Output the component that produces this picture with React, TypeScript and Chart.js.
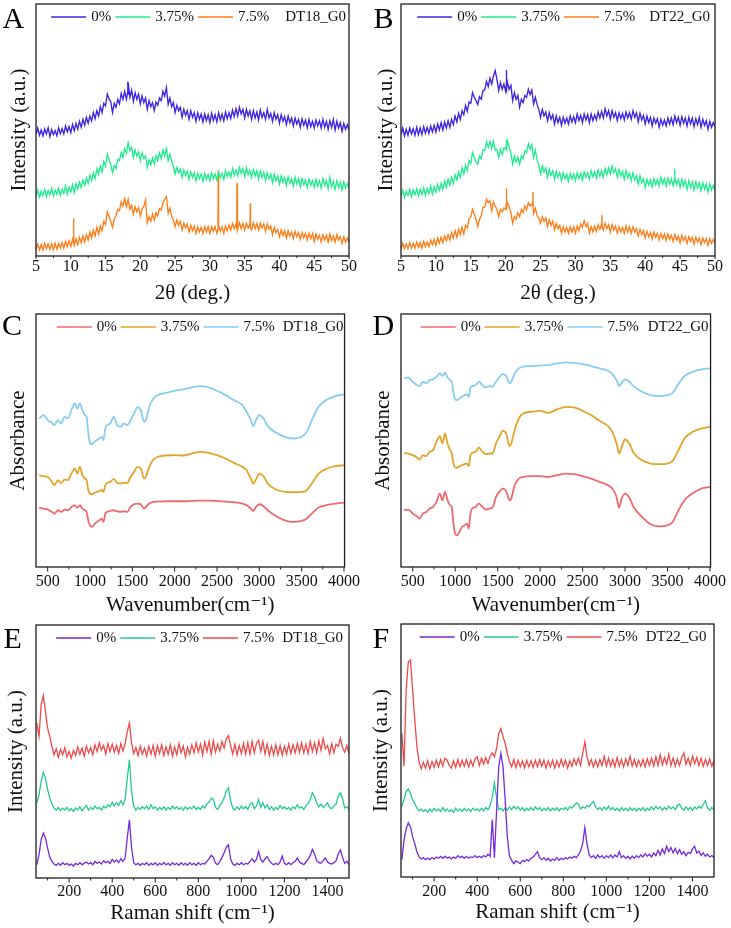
import React, { useEffect, useRef } from "react";
import { Chart, registerables } from "chart.js";
Chart.register(...registerables);

const FONT = "'Liberation Serif', 'Times New Roman', 'DejaVu Serif', serif";

// ---------- XRD (2θ, deg.) ----------
const XRD_X = [5,5.25,5.5,5.75,6,6.25,6.5,6.75,7,7.25,7.5,7.75,8,8.25,8.5,8.75,9,9.25,9.5,9.75,10,10.25,10.5,10.75,11,11.25,11.5,11.75,12,12.25,12.5,12.75,13,13.25,13.5,13.75,14,14.25,14.5,14.75,15,15.25,15.5,15.75,16,16.25,16.5,16.75,17,17.25,17.5,17.75,18,18.25,18.5,18.75,19,19.25,19.5,19.75,20,20.25,20.5,20.75,21,21.25,21.5,21.75,22,22.25,22.5,22.75,23,23.25,23.5,23.75,24,24.25,24.5,24.75,25,25.25,25.5,25.75,26,26.25,26.5,26.75,27,27.25,27.5,27.75,28,28.25,28.5,28.75,29,29.25,29.5,29.75,30,30.25,30.5,30.75,31,31.25,31.5,31.75,32,32.25,32.5,32.75,33,33.25,33.5,33.75,34,34.25,34.5,34.75,35,35.25,35.5,35.75,36,36.25,36.5,36.75,37,37.25,37.5,37.75,38,38.25,38.5,38.75,39,39.25,39.5,39.75,40,40.25,40.5,40.75,41,41.25,41.5,41.75,42,42.25,42.5,42.75,43,43.25,43.5,43.75,44,44.25,44.5,44.75,45,45.25,45.5,45.75,46,46.25,46.5,46.75,47,47.25,47.5,47.75,48,48.25,48.5,48.75,49,49.25,49.5,49.75,50];
const XRD_TICKS = [5,10,15,20,25,30,35,40,45,50];

const A_0 = [365,384,362,378,360,381,366,385,358,379,364,376,361,385,367,382,366,390,372,388,370,395,376,398,380,404,386,410,392,416,398,420,405,430,412,436,420,448,430,458,450,486,472,462,430,458,446,470,456,488,470,494,470,520,476,498,464,490,470,486,456,480,460,474,440,466,448,460,436,462,452,474,466,494,480,505,455,474,448,460,430,452,436,446,416,440,422,436,410,436,416,430,404,430,410,426,402,426,406,424,400,428,406,424,402,430,408,426,406,432,412,430,412,438,418,442,420,446,426,440,414,440,420,436,410,436,414,432,408,438,416,430,410,440,414,428,404,430,410,424,398,424,404,418,394,420,400,414,390,414,396,410,386,412,392,408,384,410,388,404,384,408,390,406,384,410,386,404,380,406,386,410,378,404,384,400,374,398,380,394,378];
const A_375 = [180,198,176,194,182,200,178,196,184,203,180,198,185,204,182,200,188,210,186,206,192,214,190,216,200,222,206,228,212,234,218,242,226,250,232,262,246,270,252,284,270,304,290,274,250,272,262,290,286,310,296,322,308,340,316,326,296,318,300,312,286,310,292,300,266,288,274,294,276,300,286,310,292,318,300,322,286,306,284,270,246,266,250,260,236,258,242,254,230,252,236,250,226,248,232,246,224,248,230,244,226,250,232,246,228,252,234,248,230,256,238,252,236,262,242,258,240,266,248,262,238,264,244,258,236,260,240,256,230,256,236,250,226,250,232,246,220,246,226,240,216,240,222,236,212,238,218,232,210,236,216,232,208,232,214,228,206,230,212,226,206,230,210,226,204,232,212,226,202,236,208,224,200,226,206,222,198,222,204,218,204];
const A_75 = [20,36,18,34,18,38,22,36,20,37,18,38,20,38,24,40,24,44,28,46,28,50,32,52,34,56,40,60,42,64,48,72,54,78,60,86,66,90,76,104,94,132,120,104,86,110,120,140,136,162,150,172,148,170,140,152,126,148,132,146,120,140,150,168,100,118,104,126,108,130,120,142,138,160,170,178,128,144,120,108,88,108,92,104,78,98,84,96,72,92,76,90,68,88,72,86,68,88,72,88,68,88,74,88,68,90,74,88,68,90,76,92,78,98,82,96,78,100,82,98,78,98,84,96,78,100,82,98,78,98,84,96,74,96,80,90,64,86,70,80,58,78,62,76,54,76,60,72,52,74,58,70,50,70,54,68,48,68,52,68,44,66,50,62,42,64,48,62,42,66,46,60,42,64,48,58,38,58,42,54,40];
const A_0_PEAKS = [[18.16,490],[18.2,523],[18.24,486]];
const A_375_PEAKS: number[][] = [];
const A_75_PEAKS = [[10.36,40],[10.4,113],[10.44,44],[31.16,80],[31.2,256],[31.24,82],[33.86,86],[33.9,218],[33.94,84],[35.76,86],[35.8,158],[35.84,84]];

const B_0 = [364,384,360,380,362,384,366,382,362,386,364,384,364,388,368,386,368,390,372,392,372,396,378,400,378,402,384,406,386,410,394,420,402,428,410,436,424,452,434,462,458,490,476,466,454,478,470,496,498,524,508,534,516,540,556,530,496,520,500,516,494,522,500,512,466,490,470,482,446,470,460,482,476,500,484,498,456,476,454,440,416,440,420,432,406,430,410,424,396,420,400,416,392,416,398,414,396,420,402,418,400,426,406,422,400,426,408,424,400,426,406,424,408,432,414,434,414,442,420,436,410,436,416,430,406,430,412,428,408,432,414,430,410,436,416,430,402,428,408,422,396,420,400,416,390,414,398,412,386,410,392,408,390,414,396,414,394,420,400,416,392,418,398,414,390,416,396,414,388,412,394,416,386,410,392,406,380,404,386,400,388];
const B_375 = [180,198,176,194,182,200,178,198,184,202,180,200,184,204,182,202,188,210,186,208,192,214,196,218,200,224,206,230,212,236,218,244,228,252,236,264,246,272,256,286,278,310,296,282,276,300,292,318,316,342,326,344,322,344,318,320,296,320,304,324,320,346,326,310,276,300,282,296,276,300,292,316,310,336,320,334,296,318,290,272,246,270,252,264,236,260,242,256,230,254,236,250,226,250,232,246,224,248,230,246,226,250,232,248,228,252,236,250,230,256,238,252,234,258,240,256,236,262,244,264,246,270,250,262,236,260,240,254,230,256,234,248,226,250,228,240,216,240,220,232,206,230,212,228,208,232,214,230,210,236,216,232,210,234,216,232,210,236,214,230,206,230,210,226,200,226,206,222,198,222,204,220,196,220,200,216,192,216,198,212,198];
const B_75 = [20,38,22,36,22,40,24,38,24,42,26,40,24,44,28,42,28,48,34,50,32,54,38,56,40,60,46,64,48,70,54,76,56,80,64,86,66,92,84,112,118,140,126,110,88,110,120,146,146,170,160,166,136,162,150,140,118,140,132,144,140,160,150,130,98,118,110,130,118,140,130,150,138,160,150,156,128,144,120,114,98,118,104,114,88,108,92,104,78,98,82,92,68,88,72,86,68,88,72,88,68,90,76,96,86,106,88,98,68,88,72,90,74,94,80,96,78,98,82,94,72,94,78,90,68,88,72,86,68,90,72,88,68,88,72,82,60,80,64,76,54,74,58,70,50,72,56,68,48,68,52,66,46,66,50,62,44,64,48,60,40,62,46,58,38,58,44,56,36,56,42,54,34,54,40,52,32,52,38,50,38];
const B_0_PEAKS = [[20.06,505],[20.1,558],[20.14,500]];
const B_375_PEAKS = [[20.06,330],[20.1,348],[20.14,325],[44.16,226],[44.2,262],[44.24,224]];
const B_75_PEAKS = [[20.06,150],[20.1,203],[20.14,146],[23.86,150],[23.9,193],[23.94,140],[33.76,86],[33.8,123],[33.84,86]];

// ---------- FTIR (wavenumber, cm-1) ----------
const FT_X = [400,450,500,550,580,620,660,700,740,780,820,850,880,910,940,960,980,1000,1020,1050,1080,1110,1140,1160,1180,1200,1240,1280,1320,1360,1400,1440,1480,1520,1560,1600,1640,1660,1700,1750,1800,1900,2000,2100,2200,2300,2400,2500,2600,2700,2800,2850,2900,2930,2960,3000,3050,3100,3200,3300,3400,3500,3560,3620,3700,3800,3900,4000];
const FT_TICKS = [500,1000,1500,2000,2500,3000,3500,4000];

const C_0 = [178,175,172,165,160,170,165,172,170,180,185,178,185,175,170,165,138,125,120,128,135,140,145,135,160,165,168,170,167,165,167,165,180,188,190,188,175,180,190,195,196,197,197,197,198,199,199,198,196,194,190,185,175,168,180,188,182,170,152,140,135,138,145,160,178,186,190,193];
const C_375 = [275,272,270,255,245,260,252,262,260,280,295,280,300,275,265,260,230,220,218,222,225,228,230,225,245,252,255,264,252,250,252,252,270,285,300,295,265,270,300,322,330,334,335,334,340,345,342,335,325,312,300,290,265,250,262,280,272,250,232,225,224,225,230,250,280,295,302,305];
const C_75 = [445,455,440,432,425,440,430,450,445,470,490,475,490,470,455,450,400,372,368,375,380,385,390,380,415,425,430,450,425,420,430,425,440,460,478,470,435,440,480,505,515,522,528,532,538,542,538,528,515,500,485,465,440,422,440,455,445,422,402,390,385,390,405,440,480,502,512,517];

const D_0 = [170,172,160,152,145,160,165,175,180,195,220,200,225,200,185,180,130,100,95,105,120,125,130,115,160,175,180,190,180,172,175,178,210,225,235,228,200,205,245,265,270,272,272,270,275,280,278,272,265,255,245,235,210,178,205,220,208,180,150,128,122,125,135,165,200,222,235,240];
const D_375 = [342,340,335,328,322,335,332,345,350,375,392,370,400,370,350,340,310,298,297,302,305,308,310,302,335,342,345,358,345,338,340,340,370,390,408,400,362,370,410,445,460,465,468,462,472,480,478,468,455,438,422,405,370,340,360,382,370,342,320,310,308,310,318,345,385,405,415,420];
const D_75 = [565,568,555,545,542,555,550,560,562,570,580,572,582,568,560,555,520,502,500,505,510,515,517,510,538,542,545,555,545,538,542,540,555,568,578,572,550,555,580,595,600,602,604,605,610,613,611,608,602,595,588,578,560,542,552,562,555,542,525,515,512,515,522,545,572,585,592,595];

// ---------- Raman (Raman shift, cm-1) ----------
const RAMAN_X = [50,60,70,80,90,100,110,120,130,140,150,160,170,180,190,200,210,220,230,240,250,260,270,280,290,300,310,320,330,340,350,360,370,380,390,400,410,420,430,440,450,460,470,480,490,500,510,520,530,540,550,560,570,580,590,600,610,620,630,640,650,660,670,680,690,700,710,720,730,740,750,760,770,780,790,800,810,820,830,840,850,860,870,880,890,900,910,920,930,940,950,960,970,980,990,1000,1010,1020,1030,1040,1050,1060,1070,1080,1090,1100,1110,1120,1130,1140,1150,1160,1170,1180,1190,1200,1210,1220,1230,1240,1250,1260,1270,1280,1290,1300,1310,1320,1330,1340,1350,1360,1370,1380,1390,1400,1410,1420,1430,1440,1450,1460,1470,1480,1490,1500];
const RAMAN_TICKS = [200,400,600,800,1000,1200,1400];

const E_0 = [40,70,115,135,120,90,62,50,42,38,44,38,46,40,44,38,42,36,44,40,46,40,44,48,42,46,40,50,44,48,42,52,46,50,44,56,48,54,46,58,50,60,120,175,90,45,40,44,38,44,40,46,38,44,40,46,38,44,40,46,40,44,38,46,40,44,38,46,40,44,38,46,40,44,38,46,40,44,42,50,58,68,62,44,40,50,62,76,92,100,58,42,38,44,40,46,40,44,42,50,58,48,56,80,56,48,58,64,52,44,40,44,40,48,66,44,40,46,40,46,50,60,48,44,40,48,56,68,86,72,52,46,44,52,60,48,44,42,46,52,72,84,62,44,50,40];
const E_375 = [225,250,290,317,300,265,240,222,210,204,212,202,210,204,212,202,208,200,210,204,214,202,210,218,204,212,206,216,208,212,204,216,210,220,214,228,216,226,218,232,220,236,300,355,260,215,204,212,206,214,208,216,206,220,208,214,204,212,206,214,204,212,206,216,208,214,206,212,204,214,206,212,208,216,206,212,206,216,210,222,228,240,236,212,206,218,226,240,262,270,232,210,204,214,206,216,208,214,206,222,226,208,216,236,212,226,210,220,206,214,204,212,206,218,208,214,206,212,204,214,208,220,210,214,206,216,224,236,256,244,226,214,222,212,218,226,212,208,216,222,246,256,238,210,214,206];
const E_75 = [465,425,520,548,500,450,425,395,370,388,362,386,370,392,364,380,360,384,368,394,372,390,366,396,376,392,370,400,380,406,384,398,372,404,380,402,378,398,374,404,382,404,440,465,405,374,392,368,396,372,390,366,396,372,398,366,398,374,400,368,394,372,400,366,394,370,404,376,396,364,392,372,400,376,406,378,402,370,408,380,410,372,412,378,402,382,410,390,418,428,398,372,402,370,398,374,404,372,406,372,410,376,404,414,380,410,372,402,368,396,370,400,370,398,368,396,372,402,374,400,376,404,378,406,376,402,374,410,380,406,376,412,384,420,388,398,372,404,376,402,396,420,392,378,398,374];

const F_0 = [52,110,145,162,150,120,100,75,60,54,58,52,56,52,58,54,60,56,62,56,62,56,60,54,60,56,64,58,62,56,62,56,60,58,64,58,62,58,64,60,68,62,172,58,200,330,370,330,230,120,62,50,40,48,44,40,50,46,52,48,56,60,68,76,58,52,58,50,56,48,54,50,58,50,56,52,58,54,60,56,62,58,66,78,100,148,100,66,58,64,56,66,58,64,56,64,58,66,58,66,60,76,58,64,56,62,54,62,56,64,58,66,60,70,62,68,60,72,64,80,66,84,70,92,76,88,72,86,70,82,68,76,64,74,70,84,92,72,78,64,72,62,68,60,64,58];
const F_375 = [212,232,256,264,250,232,220,206,198,204,196,202,194,204,196,206,198,204,196,208,198,204,196,202,194,206,198,204,196,206,198,204,196,206,200,204,198,206,198,208,202,214,240,282,236,202,206,198,208,200,210,202,212,204,210,200,208,198,206,200,208,200,210,202,208,198,206,200,208,198,206,200,208,198,206,202,208,200,210,206,214,222,218,204,210,206,214,210,220,226,210,202,208,200,210,202,212,202,208,200,206,198,208,200,206,198,208,200,206,198,206,200,208,198,206,200,210,202,212,204,210,200,208,202,212,204,210,202,214,218,206,200,210,202,208,200,210,204,212,206,218,228,206,200,208,202];
const F_75 = [430,332,560,645,650,560,470,390,345,324,344,326,348,324,346,328,350,330,352,332,356,350,334,326,348,328,352,330,350,332,352,330,350,332,354,360,334,356,338,358,340,362,372,360,385,430,445,420,400,370,345,330,352,328,350,330,348,326,350,330,348,328,350,330,352,332,350,326,348,330,350,326,348,330,352,332,350,326,348,332,354,336,356,334,370,405,360,334,352,330,350,330,352,334,362,332,356,332,352,330,358,332,352,330,354,334,362,332,352,330,350,332,352,330,354,334,356,332,360,334,366,336,358,338,368,334,356,332,354,334,358,372,338,356,334,362,340,358,334,356,332,352,334,354,332,348];

const LABELS = ["0%", "3.75%", "7.5%"];
const XRD_COLORS = ["#3D24E4", "#22EC8E", "#FF7E1A"];
const FT_COLORS = ["#EE6A6D", "#E2A42A", "#86CDF1"];
const RAMAN_COLORS = ["#7529DA", "#24C996", "#EF4A4A"];

function pts(xs: number[], ys: number[], extra: number[][] = []) {
  const p = xs.map((x, i) => ({ x, y: ys[i] }));
  extra.forEach(([x, y]) => p.push({ x, y }));
  p.sort((a, b) => a.x - b.x);
  return p;
}

type Series = { label: string; color: string; data: { x: number; y: number }[] };
type Cfg = {
  letter: string; lx: number; ly: number;
  x: number; y: number; w: number; h: number;
  area: { left: number; right: number; top: number; bottom: number };
  xMin: number; xMax: number; yMax: number; ticks: number[];
  xTitle: string; yTitle: string; yTitlePad: number; tickPad: number;
  major: number; minor: number; lw: number; smooth: boolean;
  name: string; nameGap: number; inset: number; series: Series[];
};

const mk = (cols: string[], arr: { x: number; y: number }[][]): Series[] =>
  arr.map((d, i) => ({ label: LABELS[i], color: cols[i], data: d }));

const PANELS: Cfg[] = [
  {
    letter: "A", lx: 2.5, ly: 3, x: 0, y: 0, w: 365, h: 306,
    area: { left: 36, right: 349, top: 4, bottom: 256 },
    xMin: 5, xMax: 50, yMax: 756, ticks: XRD_TICKS, xTitle: "2θ (deg.)", yTitle: "Intensity (a.u.)",
    yTitlePad: 6.6, tickPad: 1, major: 3, minor: 2, lw: 1.35, smooth: false, name: "DT18_G0", nameGap: 16, inset: 3,
    series: mk(XRD_COLORS, [pts(XRD_X, A_0, A_0_PEAKS), pts(XRD_X, A_375, A_375_PEAKS), pts(XRD_X, A_75, A_75_PEAKS)]),
  },
  {
    letter: "B", lx: 373.5, ly: 3, x: 365, y: 0, w: 366, h: 306,
    area: { left: 36, right: 350, top: 4, bottom: 256 },
    xMin: 5, xMax: 50, yMax: 756, ticks: XRD_TICKS, xTitle: "2θ (deg.)", yTitle: "Intensity (a.u.)",
    yTitlePad: 8.4, tickPad: 1, major: 3, minor: 2, lw: 1.35, smooth: false, name: "DT22_G0", nameGap: 14, inset: 5,
    series: mk(XRD_COLORS, [pts(XRD_X, B_0, B_0_PEAKS), pts(XRD_X, B_375, B_375_PEAKS), pts(XRD_X, B_75, B_75_PEAKS)]),
  },
  {
    letter: "C", lx: 2, ly: 310, x: 0, y: 300, w: 365, h: 318,
    area: { left: 36, right: 347, top: 14, bottom: 267 },
    xMin: 362, xMax: 4007, yMax: 758, ticks: FT_TICKS, xTitle: "Wavenumber(cm⁻¹)", yTitle: "Absorbance",
    yTitlePad: 5.4, tickPad: 5, major: 4.5, minor: 2.5, lw: 1.8, smooth: true, name: "DT18_G0", nameGap: 8, inset: 1,
    series: mk(FT_COLORS, [pts(FT_X, C_0), pts(FT_X, C_375), pts(FT_X, C_75)]),
  },
  {
    letter: "D", lx: 372.5, ly: 310, x: 365, y: 300, w: 366, h: 318,
    area: { left: 36, right: 347, top: 14, bottom: 267 },
    xMin: 362, xMax: 4007, yMax: 758, ticks: FT_TICKS, xTitle: "Wavenumber(cm⁻¹)", yTitle: "Absorbance",
    yTitlePad: 5.4, tickPad: 5, major: 4.5, minor: 2.5, lw: 1.8, smooth: true, name: "DT22_G0", nameGap: 9, inset: 2,
    series: mk(FT_COLORS, [pts(FT_X, D_0), pts(FT_X, D_375), pts(FT_X, D_75)]),
  },
  {
    letter: "E", lx: 3.5, ly: 623, x: 0, y: 610, w: 365, h: 316,
    area: { left: 36, right: 349, top: 15, bottom: 268 },
    xMin: 46, xMax: 1500, yMax: 760, ticks: RAMAN_TICKS, xTitle: "Raman shift (cm⁻¹)", yTitle: "Intensity (a.u.)",
    yTitlePad: 3.4, tickPad: 4.5, major: 4.5, minor: 2.5, lw: 1.3, smooth: false, name: "DT18_G0", nameGap: 8, inset: 6,
    series: mk(RAMAN_COLORS, [pts(RAMAN_X, E_0), pts(RAMAN_X, E_375), pts(RAMAN_X, E_75)]),
  },
  {
    letter: "F", lx: 372.5, ly: 623, x: 365, y: 610, w: 366, h: 315,
    area: { left: 36, right: 349, top: 14, bottom: 267 },
    xMin: 46, xMax: 1500, yMax: 758, ticks: RAMAN_TICKS, xTitle: "Raman shift (cm⁻¹)", yTitle: "Intensity (a.u.)",
    yTitlePad: 3.4, tickPad: 5, major: 4.5, minor: 2.5, lw: 1.3, smooth: false, name: "DT22_G0", nameGap: 8, inset: 7.5,
    series: mk(RAMAN_COLORS, [pts(RAMAN_X, F_0), pts(RAMAN_X, F_375), pts(RAMAN_X, F_75)]),
  },
];

const framePlugin = {
  id: "frameTicks",
  afterDatasetsDraw(chart: any, _args: any, opts: any) {
    const { ctx, chartArea: a } = chart;
    const xs = chart.scales.x;
    ctx.save();
    ctx.strokeStyle = "#1e1e1e";
    ctx.lineWidth = 1.3;
    ctx.strokeRect(a.left, a.top, a.right - a.left, a.bottom - a.top);
    ctx.lineWidth = 1;
    const majors: number[] = xs.ticks.map((t: any) => t.value);
    const step = majors[1] - majors[0];
    ctx.beginPath();
    majors.forEach((v) => {
      const px = xs.getPixelForValue(v);
      ctx.moveTo(px, a.bottom);
      ctx.lineTo(px, a.bottom + opts.major);
    });
    for (let v = majors[0] - step / 2; v < xs.max; v += step) {
      if (v <= xs.min) continue;
      const px = xs.getPixelForValue(v);
      ctx.moveTo(px, a.bottom);
      ctx.lineTo(px, a.bottom + opts.minor);
    }
    ctx.stroke();
    ctx.restore();
  },
};

const legendPlugin = {
  id: "inlineLegend",
  afterDatasetsDraw(chart: any, _args: any, opts: any) {
    const { ctx, chartArea: a } = chart;
    const sets = chart.data.datasets;
    const lineW = 35, g1 = 5, g2 = 4;
    ctx.save();
    ctx.font = `15px ${FONT}`;
    ctx.textBaseline = "middle";
    let total = 0;
    sets.forEach((d: any, i: number) => {
      total += lineW + g1 + ctx.measureText(d.label).width + (i < sets.length - 1 ? g2 : 0);
    });
    total += opts.nameGap + ctx.measureText(opts.name).width;
    let x = a.right - opts.inset - total;
    const y = a.top + 13;
    sets.forEach((d: any, i: number) => {
      ctx.strokeStyle = d.borderColor;
      ctx.lineWidth = 1.5;
      ctx.beginPath();
      ctx.moveTo(x, y);
      ctx.lineTo(x + lineW, y);
      ctx.stroke();
      x += lineW + g1;
      ctx.fillStyle = "#111";
      ctx.fillText(d.label, x, y);
      x += ctx.measureText(d.label).width + (i < sets.length - 1 ? g2 : 0);
    });
    x += opts.nameGap;
    ctx.fillStyle = "#111";
    ctx.fillText(opts.name, x, y);
    ctx.restore();
  },
};

function Panel({ cfg }: { cfg: Cfg }) {
  const ref = useRef<HTMLCanvasElement>(null);
  useEffect(() => {
    const canvas = ref.current;
    if (!canvas) return;
    const chart = new Chart(canvas, {
      type: "line",
      data: {
        datasets: cfg.series.map((s) => ({
          label: s.label,
          data: s.data,
          borderColor: s.color,
          backgroundColor: s.color,
          borderWidth: cfg.lw,
          pointRadius: 0,
          fill: false,
          cubicInterpolationMode: cfg.smooth ? "monotone" : "default",
          tension: 0,
        })),
      },
      options: {
        responsive: false,
        animation: false,
        layout: { padding: { left: 0, top: cfg.area.top, right: cfg.w - cfg.area.right, bottom: 0 } },
        plugins: {
          legend: { display: false },
          tooltip: { enabled: false },
          frameTicks: { major: cfg.major, minor: cfg.minor },
          inlineLegend: { name: cfg.name, nameGap: cfg.nameGap, inset: cfg.inset },
        } as any,
        scales: {
          x: {
            type: "linear",
            min: cfg.xMin,
            max: cfg.xMax,
            afterBuildTicks: (s: any) => {
              s.ticks = cfg.ticks.map((v) => ({ value: v }));
            },
            afterFit: (s: any) => {
              s.height = cfg.h - cfg.area.bottom;
            },
            grid: { display: false, drawTicks: false },
            border: { display: false },
            ticks: {
              autoSkip: false,
              maxRotation: 0,
              padding: cfg.tickPad,
              color: "#111",
              font: { family: FONT, size: 16, lineHeight: 1.2 },
              callback: (v: any) => String(v),
            },
            title: {
              display: true,
              text: cfg.xTitle,
              color: "#111",
              font: { family: FONT, size: 21, lineHeight: 1.2 },
              padding: { top: 0, bottom: 0 },
            },
          },
          y: {
            type: "linear",
            min: 0,
            max: cfg.yMax,
            afterFit: (s: any) => {
              s.width = cfg.area.left;
            },
            grid: { display: false, drawTicks: false },
            border: { display: false },
            ticks: { display: false },
            title: {
              display: true,
              text: cfg.yTitle,
              color: "#111",
              font: { family: FONT, size: 21, lineHeight: 1.2 },
              padding: { top: cfg.yTitlePad, bottom: 0 },
            },
          },
        },
      },
      plugins: [framePlugin, legendPlugin],
    } as any);
    return () => chart.destroy();
  }, [cfg]);
  return (
    <>
      <canvas
        ref={ref}
        width={cfg.w}
        height={cfg.h}
        style={{ position: "absolute", left: cfg.x, top: cfg.y, width: cfg.w, height: cfg.h }}
      />
      <div
        style={{
          position: "absolute",
          left: cfg.lx,
          top: cfg.ly,
          fontFamily: FONT,
          fontSize: 30,
          lineHeight: "30px",
          color: "#000",
        }}
      >
        {cfg.letter}
      </div>
    </>
  );
}

export default function App() {
  return (
    <div style={{ position: "absolute", left: 0, top: 0, width: 731, height: 928, background: "#fff", overflow: "hidden" }}>
      {PANELS.map((p) => (
        <Panel key={p.letter} cfg={p} />
      ))}
    </div>
  );
}
